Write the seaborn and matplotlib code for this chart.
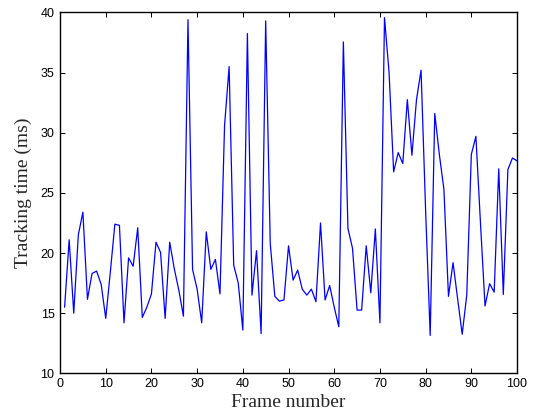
import matplotlib
matplotlib.use("Agg")
import matplotlib.pyplot as plt
import seaborn as sns
import numpy as np
import pandas as pd

frames = np.arange(1, 101)
tracking_ms = [
    15.5, 21.1, 15.0, 21.5, 23.4, 16.15, 18.3, 18.5, 17.4, 14.57,
    18.4, 22.4, 22.3, 14.2, 19.6, 18.9, 22.1, 14.65, 15.5, 16.6,
    20.9, 20.05, 14.57, 20.9, 18.7, 16.9, 14.75, 39.4, 18.64, 17.0,
    14.2, 21.76, 18.64, 19.47, 16.6, 30.6, 35.5, 19.0, 17.5, 13.6,
    38.24, 16.5, 20.2, 13.3, 39.3, 20.8, 16.4, 16.0, 16.1, 20.6,
    17.75, 18.58, 17.0, 16.5, 17.0, 15.95, 22.5, 16.1, 17.3, 15.5,
    13.87, 37.55, 22.04, 20.4, 15.26, 15.26, 20.6, 16.7, 22.0, 14.2,
    39.57, 35.0, 26.75, 28.35, 27.44, 32.75, 28.13, 32.75, 35.2, 23.5,
    13.15, 31.6, 28.2, 25.3, 16.4, 19.2, 16.2, 13.25, 16.5, 28.2,
    29.7, 22.5, 15.6, 17.45, 16.75, 27.0, 16.56, 26.94, 27.9, 27.66,
]
x_ticks = [0, 10, 20, 30, 40, 50, 60, 70, 80, 90, 100]
y_ticks = [10, 15, 20, 25, 30, 35, 40]

sns.set_style("ticks")
plt.rcParams.update({
    "xtick.direction": "in",
    "ytick.direction": "in",
    "xtick.top": True,
    "ytick.right": True,
    "xtick.major.size": 3.6,
    "ytick.major.size": 3.6,
    "xtick.major.width": 0.7,
    "ytick.major.width": 0.7,
    "axes.linewidth": 1.0,
    "axes.edgecolor": "black",
})

df = pd.DataFrame({"frame": frames, "time": tracking_ms})

fig = plt.figure(figsize=(5.36, 4.15), dpi=100)
ax = fig.add_axes([0.112, 0.1004, 0.8526, 0.8696])
sns.lineplot(data=df, x="frame", y="time", ax=ax, color="#0000ff", linewidth=0.9)

ax.set_xlim(0, 100)
ax.set_ylim(10, 40)
ax.set_xticks(x_ticks)
ax.set_yticks(y_ticks)
for side in ["top", "right", "left", "bottom"]:
    ax.spines[side].set_visible(True)
    ax.spines[side].set_color("black")

tick_font = {"family": "Liberation Sans", "size": 9}
ax.set_xticklabels([str(t) for t in x_ticks], fontdict=tick_font)
ax.set_yticklabels([str(t) for t in y_ticks], fontdict=tick_font)
ax.tick_params(axis="x", pad=3, colors="black")
ax.tick_params(axis="y", pad=4, colors="black")

ax.set_xlabel("Frame number", family="Liberation Serif", fontsize=14, labelpad=3)
ax.set_ylabel("Tracking time (ms)", family="Liberation Serif", fontsize=14, labelpad=6)

fig.savefig("out.png", dpi=100, facecolor="white")
